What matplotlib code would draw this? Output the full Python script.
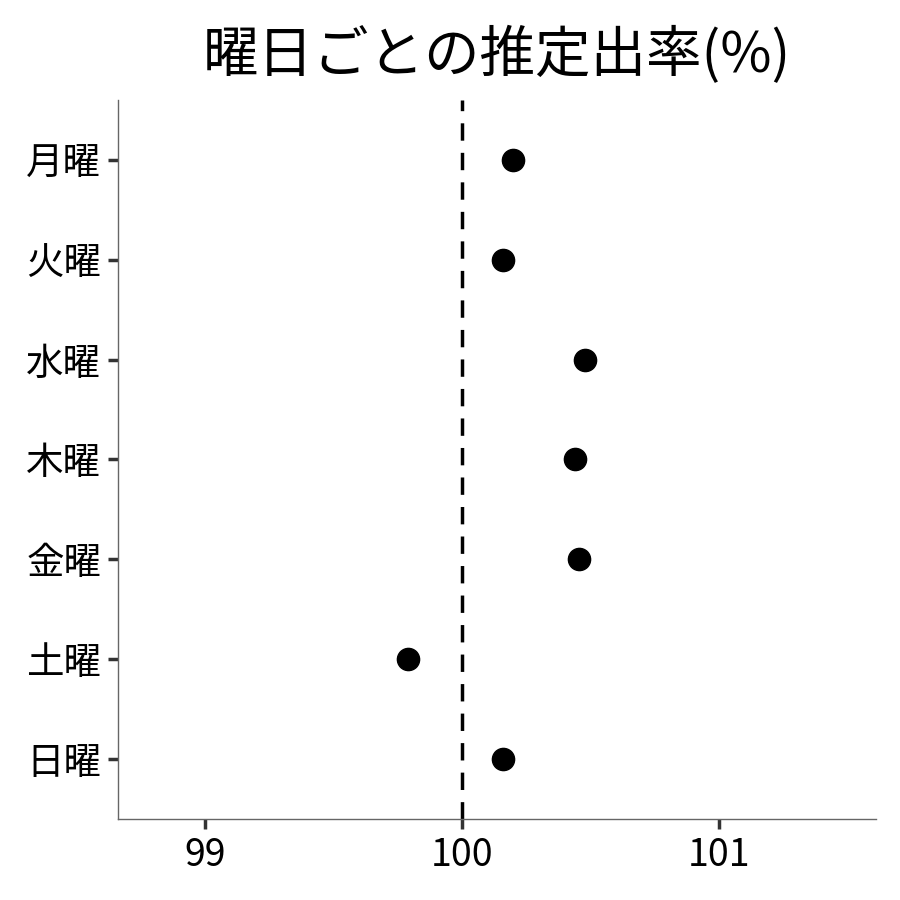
import numpy as np
import matplotlib.pyplot as plt

plt.rcParams['font.family'] = ['Noto Sans CJK JP', 'DejaVu Sans']

days = ['月曜', '火曜', '水曜', '木曜', '金曜', '土曜', '日曜']
rate = [100.20, 100.16, 100.48, 100.44, 100.455, 99.79, 100.16]
xticks = [99, 100, 101]

fig = plt.figure(figsize=(9, 9), dpi=100)
ax = fig.add_axes([0.131, 0.09, 0.842, 0.799])

ypos = np.arange(len(days))
ax.axvline(100, color='black', lw=2.5, ls=(0, (5, 3.5)), zorder=1)
ax.plot(rate, ypos, 'o', color='black', markersize=16, zorder=2)

ax.set_xlim(98.66, 101.61)
ax.set_ylim(len(days) - 0.4, -0.6)
ax.set_yticks(ypos)
ax.set_yticklabels(days)
ax.set_xticks(xticks)
ax.set_xticklabels([str(t) for t in xticks])

for s in ['top', 'right']:
    ax.spines[s].set_visible(False)
for s in ['left', 'bottom']:
    ax.spines[s].set_color('#666666')
    ax.spines[s].set_linewidth(1)
ax.tick_params(axis='both', length=7, width=2.5, color='#333333', labelsize=27, pad=5)

ax.set_title('曜日ごとの推定出率(%)', fontsize=40, pad=20)

fig.savefig('out.png', dpi=100)
